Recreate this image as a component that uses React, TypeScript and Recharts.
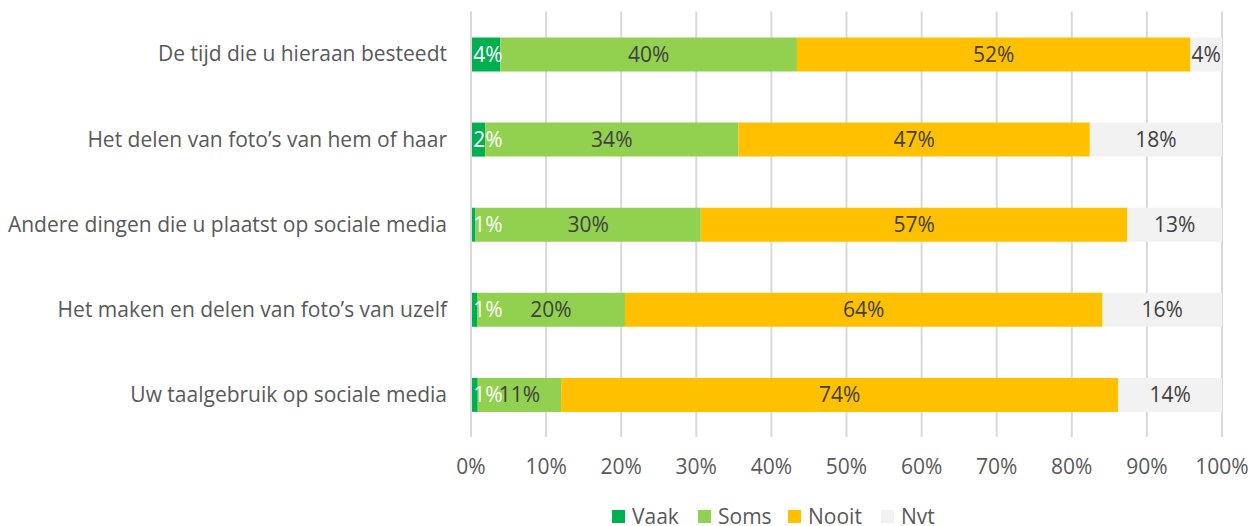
import React from "react";
import { BarChart, Bar, XAxis, YAxis, CartesianGrid, LabelList, Legend } from "recharts";

const categories = [
  "De tijd die u hieraan besteedt",
  "Het delen van foto’s van hem of haar",
  "Andere dingen die u plaatst op sociale media",
  "Het maken en delen van foto’s van uzelf",
  "Uw taalgebruik op sociale media",
];
const vaak = [3.9, 1.9, 0.6, 0.8, 0.9];
const soms = [39.5, 33.7, 30.0, 19.7, 11.1];
const nooit = [52.4, 46.8, 56.8, 63.6, 74.2];
const nvt = [4.2, 17.6, 12.6, 15.9, 13.8];
const xTicks = [0, 10, 20, 30, 40, 50, 60, 70, 80, 90, 100];

const seriesNames = ["Vaak", "Soms", "Nooit", "Nvt"];
const seriesColors = ["#00b050", "#92d050", "#ffc000", "#f2f2f2"];
const labelColors = ["#ffffff", "#404040", "#404040", "#404040"];

const data = categories.map((name, i) => ({
  name,
  Vaak: vaak[i],
  Soms: soms[i],
  Nooit: nooit[i],
  Nvt: nvt[i],
}));

const FONT = "'Open Sans', sans-serif";
const FS = 21;

const YTick = (props: any) => {
  const { x, y, payload } = props;
  return (
    <text x={x} y={y} dy="0.35em" textAnchor="end" fill="#595959" fontSize={FS} fontFamily={FONT}>
      {payload.value}
    </text>
  );
};

const XTick = (props: any) => {
  const { x, y, payload } = props;
  return (
    <text x={x} y={y + 36.5} textAnchor="middle" fill="#595959" fontSize={FS} fontFamily={FONT}>
      {payload.value}%
    </text>
  );
};

const makeLabel = (idx: number) => (props: any) => {
  const { x, y, width, height, value } = props;
  const cx = idx === 0 ? Math.max(x + width / 2, x + 17) : x + width / 2;
  return (
    <text
      x={cx}
      y={y + height / 2}
      dy="0.35em"
      textAnchor="middle"
      fill={labelColors[idx]}
      fontSize={FS}
      fontFamily={FONT}
    >
      {Math.round(value)}%
    </text>
  );
};

const legendLefts = [612, 698, 788, 881];

const LegendContent = () => (
  <div style={{ position: "relative", width: 1252, height: 20 }}>
    {seriesNames.map((n, i) => (
      <div
        key={n}
        style={{
          position: "absolute",
          left: legendLefts[i],
          top: 0,
          height: 20,
          lineHeight: "20px",
          display: "flex",
          alignItems: "center",
          fontFamily: FONT,
          fontSize: FS,
          color: "#595959",
          whiteSpace: "nowrap",
        }}
      >
        <span style={{ display: "inline-block", width: 13, height: 13, background: seriesColors[i], marginRight: 7 }} />
        <span>{n}</span>
      </div>
    ))}
  </div>
);

export default function App() {
  return (
    <div style={{ position: "absolute", left: 0, top: 0, width: 1252, height: 526, background: "#fff" }}>
      <BarChart
        width={1252}
        height={526}
        data={data}
        layout="vertical"
        margin={{ top: 11.5, right: 30, bottom: 39, left: 0 }}
        barSize={34}
      >
        <CartesianGrid horizontal={false} vertical={true} stroke="#d9d9d9" strokeWidth={2} />
        <XAxis
          type="number"
          domain={[0, 100]}
          ticks={xTicks}
          axisLine={false}
          tickLine={false}
          tickSize={0}
          tickMargin={0}
          tick={<XTick />}
          interval={0}
          allowDataOverflow
        />
        <YAxis
          type="category"
          dataKey="name"
          width={471}
          axisLine={{ stroke: "#d9d9d9", strokeWidth: 2 }}
          tickLine={false}
          tickSize={0}
          tickMargin={24}
          tick={<YTick />}
          interval={0}
        />
        <Legend
          verticalAlign="bottom"
          height={20}
          content={<LegendContent />}
          wrapperStyle={{ left: 0, top: 506, width: 1252, height: 20 }}
        />
        {seriesNames.map((n, i) => (
          <Bar key={n} dataKey={n} stackId="a" fill={seriesColors[i]} isAnimationActive={false}>
            <LabelList dataKey={n} content={makeLabel(i)} />
          </Bar>
        ))}
      </BarChart>
    </div>
  );
}
